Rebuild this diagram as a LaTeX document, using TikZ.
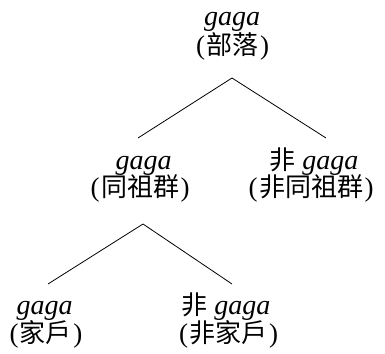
\documentclass[tikz,border=0pt]{standalone}
\usepackage{fontspec}
\setmainfont{Liberation Serif}
\newfontfamily\cjk{Noto Sans CJK TC}
\newcommand{\gagaw}{{\fontsize{28}{32}\selectfont\itshape gaga}}
\newcommand{\cjkw}[1]{{\fontsize{26}{30}\selectfont\cjk #1}}
\newcommand{\paren}[1]{(\hspace{1.5pt}\cjkw{#1}\hspace{1.5pt})}
\begin{document}
\begin{tikzpicture}[x=1pt,y=1pt,
  lbl/.style={inner sep=0pt, anchor=base, font=\fontsize{27}{30}\selectfont},
  edge/.style={line width=0.8pt}]
\useasboundingbox (0,0) rectangle (385,353);
% labels
\node[lbl] (t1) at (232,327) {\gagaw};
\node[lbl] (t2) at (232.5,298) {\paren{部落}};
\node[lbl] (l1) at (143.5,183.5) {\gagaw};
\node[lbl] (l2) at (140,156) {\paren{同祖群}};
\node[lbl] (r1) at (314,183.5) {\cjkw{非} \gagaw};
\node[lbl] (r2) at (311,156) {\paren{非同祖群}};
\node[lbl] (b1) at (44.5,38.5) {\gagaw};
\node[lbl] (b2) at (46,11) {\paren{家戶}};
\node[lbl] (c1) at (226,38.5) {\cjkw{非} \gagaw};
\node[lbl] (c2) at (228.5,11) {\paren{非家戶}};
% connector ends
\coordinate (a1) at (232,275);
\coordinate (a1l) at (138,215);
\coordinate (a1r) at (326,215);
\coordinate (a2) at (143,129);
\coordinate (a2l) at (48,69);
\coordinate (a2r) at (232,69);
\draw[edge] (a1l) -- (a1) -- (a1r);
\draw[edge] (a2l) -- (a2) -- (a2r);
\end{tikzpicture}
\end{document}
